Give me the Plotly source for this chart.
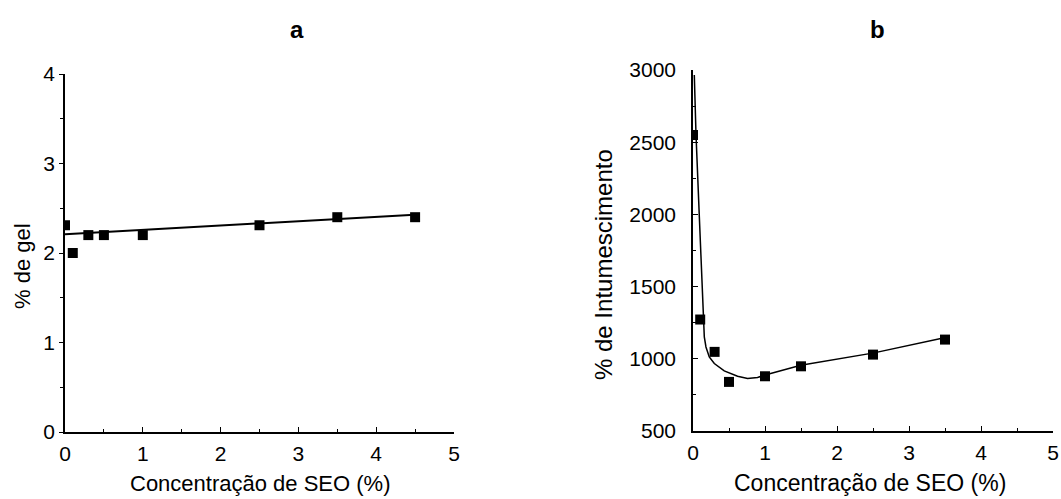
import plotly.graph_objects as go

# Panel a: % de gel
a_x = [0, 0.1, 0.3, 0.5, 1.0, 2.5, 3.5, 4.5]
a_y = [2.31, 2.0, 2.2, 2.2, 2.2, 2.31, 2.4, 2.4]
a_fit_x = [0, 4.55]
a_fit_y = [2.21, 2.43]

# Panel b: % de Intumescimento
b_x = [0, 0.1, 0.3, 0.5, 1.0, 1.5, 2.5, 3.5]
b_y = [2550, 1272, 1048, 840, 879, 948, 1029, 1133]
b_fit_x = [0.018, 0.042, 0.088, 0.134, 0.157, 0.18, 0.226, 0.296, 0.434, 0.619,
           0.758, 0.896, 0.989, 1.497, 2.514, 3.507]
b_fit_y = [2965, 2550, 1983, 1406, 1152, 1082, 1013, 967, 916, 879,
           863, 870, 886, 955, 1041, 1147]

FONT = "Liberation Sans, Arial, sans-serif"
W, H = 1061, 499


def px(x):
    return x / W


def py(y):
    return (H - y) / H


fig = go.Figure()
fig.add_trace(go.Scatter(x=a_fit_x, y=a_fit_y, mode="lines",
                         line=dict(color="black", width=2), xaxis="x", yaxis="y",
                         showlegend=False))
fig.add_trace(go.Scatter(x=a_x, y=a_y, mode="markers",
                         marker=dict(symbol="square", size=10, color="black"),
                         xaxis="x", yaxis="y", showlegend=False))
fig.add_trace(go.Scatter(x=b_fit_x, y=b_fit_y, mode="lines",
                         line=dict(color="black", width=1.5), xaxis="x2", yaxis="y2",
                         showlegend=False))
fig.add_trace(go.Scatter(x=b_x, y=b_y, mode="markers",
                         marker=dict(symbol="square", size=10, color="black"),
                         xaxis="x2", yaxis="y2", showlegend=False))

axis_common = dict(showgrid=False, zeroline=False, showline=True, linecolor="black",
                   linewidth=1.5, tickcolor="black", automargin=False,
                   tickfont=dict(size=21, family=FONT, color="black"))


def ann(text, x, y, size, angle=0, bold=False):
    return dict(text=f"<b>{text}</b>" if bold else text, x=px(x), y=py(y),
                xref="paper", yref="paper", xanchor="center", yanchor="middle",
                showarrow=False, textangle=angle, borderpad=0,
                font=dict(size=size, family=FONT, color="black"))


fig.update_layout(
    width=W, height=H,
    margin=dict(l=0, r=0, t=0, b=0),
    paper_bgcolor="white", plot_bgcolor="white",
    font=dict(family=FONT, color="black"),
    xaxis=dict(domain=[px(65), px(454)], range=[0, 5], anchor="y",
               dtick=1, ticks="inside", ticklen=5, ticklabelstandoff=2,
               minor=dict(dtick=0.5, ticks="inside", ticklen=3, tickcolor="black"),
               **axis_common),
    yaxis=dict(domain=[py(432), py(74)], range=[0, 4], anchor="x",
               dtick=1, ticks="outside", ticklen=4, ticklabelstandoff=0,
               minor=dict(dtick=0.5, ticks="outside", ticklen=3, tickcolor="black"),
               **axis_common),
    xaxis2=dict(domain=[px(693), px(1053)], range=[0, 5], anchor="y2",
                dtick=1, ticks="inside", ticklen=5, ticklabelstandoff=2,
                minor=dict(dtick=0.5, ticks="inside", ticklen=3, tickcolor="black"),
                **axis_common),
    yaxis2=dict(domain=[py(431), py(70)], range=[500, 3000], anchor="x2",
                dtick=500, ticks="inside", ticklen=5, ticklabelstandoff=11,
                minor=dict(dtick=250, ticks="inside", ticklen=3, tickcolor="black"),
                **axis_common),
    annotations=[
        ann("a", 297, 30, 24, bold=True),
        ann("b", 877, 30, 24, bold=True),
        ann("Concentração de SEO (%)", 260, 483, 22),
        ann("Concentração de SEO (%)", 870, 483, 23),
        ann("% de gel", 22, 266, 22, angle=-90),
        ann("% de Intumescimento", 603, 265, 24, angle=-90),
    ],
)

fig.write_html(
    "out.html",
    config={"displayModeBar": False},
    post_script="document.body.style.margin='0';document.body.style.overflow='hidden';",
)
